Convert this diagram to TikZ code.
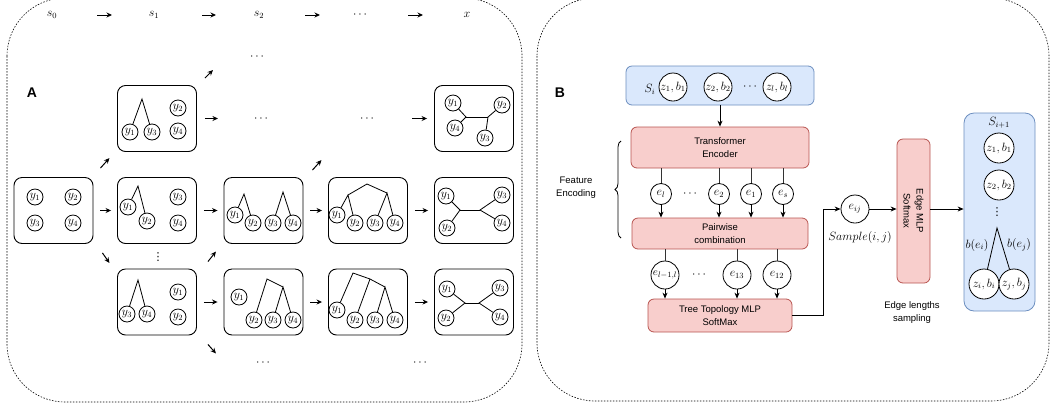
\documentclass[tikz,border=0pt]{standalone}
\usepackage{fontspec}
\newfontfamily\arialf{Liberation Sans}
\newfontfamily\dejavuf{DejaVu Sans}
\usetikzlibrary{arrows.meta,decorations.pathreplacing,calc}
\definecolor{blueF}{HTML}{DAE8FC}
\definecolor{blueS}{HTML}{6C8EBF}
\definecolor{redF}{HTML}{F8CECC}
\definecolor{redS}{HTML}{B85450}
\newcommand\yn[3]{\node[yc] (#1) at (#2) {$y_{#3}$};}
\begin{document}
\begin{tikzpicture}[x=1pt,y=-1pt,
  arr/.style={-{Stealth[length=5.5pt,width=5pt]}, line width=1pt},
  harr/.style={arr, shorten <=7pt, shorten >=6pt},
  tbox/.style={draw, rounded corners=8pt, line width=0.9pt, minimum width=79pt, minimum height=66pt},
  yc/.style={draw, circle, fill=white, minimum size=16pt, inner sep=0pt, line width=0.8pt, font=\fontsize{12}{12}\selectfont},
  tl/.style={line width=0.8pt},
  panel/.style={draw, dash pattern=on 1.5pt off 1.5pt, line width=0.6pt, rounded corners=58pt},
  lbl/.style={font=\fontsize{14}{14}\selectfont\arialf\bfseries},
  blu/.style={draw=blueS, fill=blueF, rounded corners=6pt, line width=0.8pt},
  redb/.style={draw=redS, fill=redF, rounded corners=6pt, line width=0.8pt, align=center, font=\fontsize{9.5}{13}\selectfont\arialf},
  txt/.style={align=center, font=\fontsize{9.5}{13}\selectfont\arialf},
  zc/.style={draw, circle, fill=white, minimum size=28pt, inner sep=0pt, line width=0.8pt, font=\fontsize{12}{14}\selectfont},
  ec/.style={draw, circle, fill=white, minimum size=21pt, inner sep=0pt, line width=0.8pt, font=\fontsize{12}{14}\selectfont},
  barr/.style={-{Stealth[length=6pt,width=5pt]}, line width=0.8pt},
  cl/.style={line width=0.8pt, black!80},
  mth/.style={font=\fontsize{12}{14}\selectfont},
  vdt/.style={font=\fontsize{11}{12}\selectfont\dejavuf},
]
\useasboundingbox (0,0) rectangle (1051,408);

% ---------------- panels
\draw[panel] (7,-2) rectangle (522,402);
\draw[panel] (537,-2) rectangle (1049,401);
\node[lbl] (labA) at (32,93) {A};
\node[lbl] (labB) at (560,93) {B};

% ---------------- header
\node[mth] (s0) at (52,15) {$s_0$};
\node[mth] (s1) at (154,15) {$s_1$};
\node[mth] (s2) at (259,15) {$s_2$};
\node[mth] (hd) at (360,15) {$\cdots$};
\node[mth] (xh) at (467,15) {$x$};
\draw[arr] ([xshift=45pt]s0.center) -- ++(15,0);
\draw[arr] ([xshift=48pt]s1.center) -- ++(14,0);
\draw[arr] ([xshift=46pt]s2.center) -- ++(15,0);
\draw[arr] ([xshift=48pt]hd.center) -- ++(15,0);

% ---------------- boxes
\node[tbox] (r1c2) at (157,118.5) {};
\node[tbox] (r1c5) at (474,118.5) {};
\node[tbox] (r2c1) at (53.5,210.5) {};
\node[tbox] (r2c2) at (157,210.5) {};
\node[tbox] (r2c3) at (263.5,210.5) {};
\node[tbox] (r2c4) at (368,210.5) {};
\node[tbox] (r2c5) at (474,210.5) {};
\node[tbox] (r3c2) at (157,302) {};
\node[tbox] (r3c3) at (263.5,302) {};
\node[tbox] (r3c4) at (368,302) {};
\node[tbox] (r3c5) at (474,302) {};

% dots
\node[mth] (dtop) at (257,57) {$\cdots$};
\node[mth] (dA) at (261,119) {$\cdots$};
\node[mth] (dB) at (367,119) {$\cdots$};
\node[mth] (dC) at (263,363) {$\cdots$};
\node[mth] (dD) at (420,363) {$\cdots$};
\node[vdt] (vd) at (158,257) {⋮};

% horizontal arrows
\draw[harr] (r2c1) -- (r2c2);
\draw[harr] (r2c2) -- (r2c3);
\draw[harr] (r2c3) -- (r2c4);
\draw[harr] (r2c4) -- (r2c5);
\draw[harr] (r3c2) -- (r3c3);
\draw[harr] (r3c3) -- (r3c4);
\draw[harr] (r3c4) -- (r3c5);
\draw[arr] ([xshift=8pt]r1c2.east) -- ++(13,0);
\draw[arr] ([xshift=-22pt]r1c5.west) -- ++(15,0);

% diagonal arrows
\draw[arr] ([shift={(7,-9)}]r2c1.north east) -- ++(9,-10);
\draw[arr] ([shift={(9,9)}]r2c1.south east) -- ++(7,10);
\draw[arr] ([shift={(8,-7)}]r1c2.north east) -- ++(8,-8);
\draw[arr] ([shift={(9,-7)}]r2c3.north east) -- ++(9,-10);
\draw[arr] ([shift={(11,-7)}]r3c2.north east) -- ++(8,-10);
\draw[arr] ([shift={(11,9)}]r3c2.south east) -- ++(8,9);

% ---------------- trees
% r1c2
\yn{a1}{130,132}{1} \yn{a3}{152,132}{3} \yn{a2}{178,108}{2} \yn{a4}{178,131}{4}
\draw[tl] (a1) -- (142,99) -- (a3);
% r2c1
\yn{b1}{35,197}{1} \yn{b2}{73,197}{2} \yn{b3}{35,223}{3} \yn{b4}{73,223}{4}
% r2c2
\yn{c1}{128,207}{1} \yn{c2}{147,221}{2} \yn{c3}{178,197}{3} \yn{c4}{178,223}{4}
\draw[tl] (c1) -- (138,186) -- (c2);
% r2c3
\yn{d1}{235,215}{1} \yn{d2}{253,223}{2} \yn{d3}{273,223}{3} \yn{d4}{293,223}{4}
\draw[tl] (d1) -- (244,194) -- (d2);
\draw[tl] (d3) -- (283,192) -- (d4);
% r2c4
\yn{f1}{337,215}{1} \yn{f2}{355,223}{2} \yn{f3}{375,223}{3} \yn{f4}{395,223}{4}
\draw[tl] (f1) -- (348,195) -- (f2);
\draw[tl] (348,195) -- (367,184) -- (387,193);
\draw[tl] (f3) -- (387,193) -- (f4);
% r2c5
\yn{g1}{446,196}{1} \yn{g2}{447,228}{2} \yn{g3}{502,195}{3} \yn{g4}{502,223}{4}
\draw[tl] (g1) -- (460,210) -- (g2);
\draw[tl] (460,210) -- (480,210);
\draw[tl] (g3) -- (480,210) -- (g4);
% r1c5
\yn{h1}{453,103}{1} \yn{h4}{455,128}{4} \yn{h2}{502,105}{2} \yn{h3}{485,138}{3}
\draw[tl] (h1) -- (466,117) -- (h4);
\draw[tl] (466,117) -- (488,117);
\draw[tl] (h2) -- (488,117) -- (h3);
% r3c2
\yn{k3}{127,314}{3} \yn{k4}{147,314}{4} \yn{k1}{178,292}{1} \yn{k2}{178,317}{2}
\draw[tl] (k3) -- (138,280) -- (k4);
% r3c3
\yn{m1}{239,297}{1} \yn{m2}{254,320}{2} \yn{m3}{273,320}{3} \yn{m4}{293,320}{4}
\draw[tl] (m2) -- (267,279) -- (283,287);
\draw[tl] (m3) -- (283,287) -- (m4);
% r3c4
\yn{n1}{337,310}{1} \yn{n2}{355,320}{2} \yn{n3}{375,320}{3} \yn{n4}{395,320}{4}
\draw[tl] (n1) -- (353,273) -- (370,279) -- (385,287);
\draw[tl] (n2) -- (370,279);
\draw[tl] (n3) -- (385,287) -- (n4);
% r3c5
\yn{p1}{447,289}{1} \yn{p2}{446,318}{2} \yn{p3}{500,288}{3} \yn{p4}{500,317}{4}
\draw[tl] (p1) -- (465,303) -- (p2);
\draw[tl] (465,303) -- (479,303);
\draw[tl] (p3) -- (479,303) -- (p4);

% ---------------- panel B
\node[blu, minimum width=188pt, minimum height=39pt] (si) at (720,85.5) {};
\node[font=\fontsize{12}{14}\selectfont] (silab) at (650,89) {$S_i$};
\node[zc] (z1) at (673,87) {$z_1,b_1$};
\node[zc] (z2) at (718,87) {$z_2,b_2$};
\node[mth] (zd) at (750,87) {$\cdots$};
\node[zc] (zl) at (777,87) {$z_l,b_l$};

\node[redb, minimum width=178pt, minimum height=41pt] (enc) at (720,147.5) {Transformer\\Encoder};
\draw[barr] (si) -- (enc);

\node[redb, minimum width=176pt, minimum height=31pt] (pw) at (720,233.5) {Pairwise\\combination};
\node[redb, minimum width=144pt, minimum height=33pt] (tt) at (720,315.5) {Tree Topology MLP\\SoftMax};

\draw[decorate, decoration={brace, amplitude=6pt}, line width=0.8pt] (621,238) -- (621,141);
\node[txt] (fe) at (576,188) {Feature\\Encoding};

\node[ec] (el) at (661,194) {$e_l$};
\node[mth] (ed) at (690,194) {$\cdots$};
\node[ec] (e2) at (719,194) {$e_2$};
\node[ec] (e1) at (751,194) {$e_1$};
\node[ec] (es) at (783,194) {$e_s$};
\foreach \e in {el,e2,e1,es}{
  \draw[cl] (\e |- enc.south) -- (\e);
  \draw[barr] (\e) -- (\e |- pw.north);
}

\node[zc, font=\fontsize{10.95}{12}\selectfont] (ell) at (665,275) {$e_{l-1,l}$};
\node[mth] (edd) at (699,275) {$\cdots$};
\node[zc] (e13) at (737,275) {$e_{13}$};
\node[zc] (e12) at (777,275) {$e_{12}$};
\foreach \e in {ell,e13,e12}{
  \draw[cl] (\e |- pw.south) -- (\e);
  \draw[barr] (\e) -- (\e |- tt.north);
}

\node[zc] (eij) at (855,209) {$e_{ij}$};
\node[font=\fontsize{12}{14}\selectfont] (smp) at (860,237) {$Sample(i,j)$};
\draw[barr] (tt.east) -- ++(31,0) |- (eij);

\node[redb, minimum width=33pt, minimum height=144pt] (edge) at (913.5,211) {};
\node[txt, rotate=-90] (edgetxt) at (edge.center) {Edge MLP\\Softmax};
\draw[barr] (eij) -- (eij -| edge.west);
\node[txt] (els) at (912,313) {Edge lengths\\sampling};

\node[blu, rounded corners=10pt, minimum width=71pt, minimum height=198pt] (sip) at (999.5,212) {};
\draw[barr] (edge.east |- eij) -- (sip.west |- eij);
\node[font=\fontsize{12}{14}\selectfont] (siplab) at (999,123) {$S_{i+1}$};
\node[zc, minimum size=30pt] (q1) at (999,148) {$z_1,b_1$};
\node[zc, minimum size=30pt] (q2) at (999,185) {$z_2,b_2$};
\node[vdt] (qd) at (997,212) {⋮};
\coordinate (qa) at (997,228);
\node[zc, minimum size=30pt] (qi) at (984,284) {$z_i,b_i$};
\node[zc, minimum size=30pt] (qj) at (1014,284) {$z_j,b_j$};
\draw[tl] (qi) -- (qa) -- (qj);
\node[font=\fontsize{12}{14}\selectfont] (bei) at (977,245) {$b(e_i)$};
\node[font=\fontsize{12}{14}\selectfont] (bej) at (1019,245) {$b(e_j)$};
\end{tikzpicture}
\end{document}
